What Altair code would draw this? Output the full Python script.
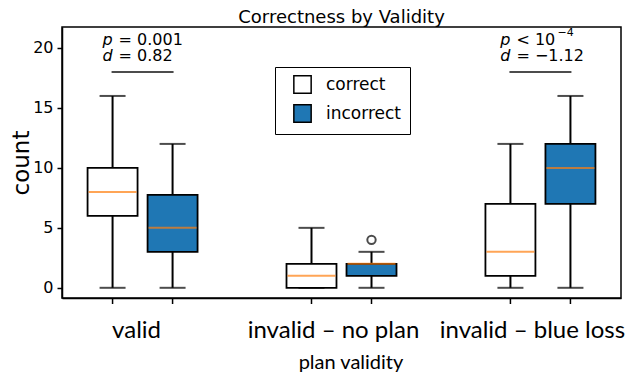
import altair as alt
import pandas as pd

# ---- data ----
groups = ["valid", "invalid – no plan", "invalid – blue loss"]
statuses = ["correct", "incorrect"]

box_group = ["valid", "valid", "invalid – no plan", "invalid – no plan",
             "invalid – blue loss", "invalid – blue loss"]
box_status = ["correct", "incorrect", "correct", "incorrect", "correct", "incorrect"]
whisker_low = [0, 0, 0, 0, 0, 0]
q1 = [6, 3, 0, 1, 1, 7]
median = [8, 5, 1, 2, 3, 10]
q3 = [10, 7.75, 2, 2, 7, 12]
whisker_high = [16, 12, 5, 3, 12, 16]

outlier_group = ["invalid – no plan"]
outlier_status = ["incorrect"]
outlier_value = [4]

ann_group = ["valid", "invalid – blue loss"]
ann_p_rest = ["= 0.001", "< 10"]
ann_p_sup = ["", "−4"]
ann_d_rest = ["= 0.82", "= −1.12"]

box_df = pd.DataFrame({
    "group": box_group, "status": box_status, "lo": whisker_low, "q1": q1,
    "median": median, "q3": q3, "hi": whisker_high,
})
out_df = pd.DataFrame({"group": outlier_group, "status": outlier_status, "value": outlier_value})
ann_df = pd.DataFrame({"group": ann_group, "p": ann_p_rest, "sup": ann_p_sup, "d": ann_d_rest,
                       "pl": ["p"] * len(ann_group), "dl": ["d"] * len(ann_group)})

W, H = 559, 271
BLUE = "#1f77b4"
ORANGE = "#ff7f0e"

x_enc = alt.X(
    "group:N", sort=groups,
    scale=alt.Scale(paddingInner=0.4, paddingOuter=0.105),
    axis=alt.Axis(
        title="plan validity", ticks=False, labelAngle=0,
        labelFont="Lato", labelFontSize=24, labelColor="black", labelLimit=400,
        labelPadding=20, labelBaseline="top",
        labelOffset=alt.expr("datum.value == 'valid' ? -6 : -8"),
        titleFont="Lato", titleFontSize=20, titleFontWeight="normal",
        titleColor="black", titleBaseline="top", titleY=54, titleX=W / 2 + 9,
        titleAlign="center",
        domainColor="black", domainWidth=1.5,
    ),
)
xo_enc = alt.XOffset("status:N", sort=statuses,
                     scale=alt.Scale(paddingInner=0.167, paddingOuter=0.078))
yscale = alt.Scale(domain=[-0.85, 21.75], nice=False, zero=False)
y_axis = alt.Axis(
    values=[0, 5, 10, 15, 20], title="count", grid=False,
    labelFont="DejaVu Sans", labelFontSize=16, labelColor="black", labelPadding=4,
    tickSize=5, tickWidth=1.5, tickColor="black",
    domainColor="black", domainWidth=1.5,
    titleFont="DejaVu Sans", titleFontSize=23, titleFontWeight="normal",
    titleColor="black", titleX=-41, titleY=H / 2, titleAngle=-90,
    titleAlign="center", titleBaseline="middle",
)


def yf(field):
    return alt.Y(field, scale=yscale, axis=y_axis)


def yd(v):
    return alt.YDatum(v, type="quantitative", scale=yscale, axis=y_axis)


base = alt.Chart(box_df)

boxes = base.mark_bar(stroke="black", strokeWidth=1.8).encode(
    x=x_enc, xOffset=xo_enc,
    y=yf("q1:Q"), y2="q3:Q",
    fill=alt.Fill(
        "status:N", scale=alt.Scale(domain=statuses, range=["white", BLUE]),
        legend=alt.Legend(
            title=None, orient="none", legendX=213, legendY=40,
            fillColor="white", strokeColor="black", padding=8,
            symbolType="square", symbolSize=300, symbolStrokeColor="black",
            symbolStrokeWidth=1.5, symbolOffset=10,
            labelFont="DejaVu Sans", labelFontSize=17,
            labelColor="black", rowPadding=4, labelOffset=14,
        ),
    ),
)

whisk_lo = base.mark_rule(color="black", strokeWidth=2).encode(
    x=x_enc, xOffset=xo_enc, y=yf("lo:Q"), y2="q1:Q")
whisk_hi = base.mark_rule(color="black", strokeWidth=2).encode(
    x=x_enc, xOffset=xo_enc, y=yf("q3:Q"), y2="hi:Q")
cap_lo = base.mark_tick(color="black", size=26, thickness=2).encode(
    x=x_enc, xOffset=xo_enc, y=yf("lo:Q"))
cap_hi = base.mark_tick(color="black", size=26, thickness=2).encode(
    x=x_enc, xOffset=xo_enc, y=yf("hi:Q"))
med = base.mark_tick(color=ORANGE, size=48, thickness=2).encode(
    x=x_enc, xOffset=xo_enc, y=yf("median:Q"))
xticks = base.mark_rule(color="black", strokeWidth=1.5).encode(
    x=x_enc, xOffset=xo_enc, y=alt.value(H), y2=alt.value(H + 6))

outliers = alt.Chart(out_df).mark_point(
    shape="circle", filled=False, color="black", size=70, strokeWidth=2
).encode(x=x_enc, xOffset=xo_enc, y=yf("value:Q"))

ann = alt.Chart(ann_df)
txt_style = dict(font="DejaVu Sans", fontSize=16, color="black", baseline="middle")
P_Y, D_Y = 20.68, 19.33
p_letter = ann.mark_text(align="right", dx=-30, fontStyle="italic", **txt_style).encode(
    x=x_enc, y=yd(P_Y), text="pl:N")
p_rest = ann.mark_text(align="left", dx=-24, **txt_style).encode(
    x=x_enc, y=yd(P_Y), text="p:N")
p_sup = ann.mark_text(align="left", dx=17, dy=-7, font="DejaVu Sans", fontSize=11,
                      color="black", baseline="middle").encode(
    x=x_enc, y=yd(P_Y), text="sup:N")
d_letter = ann.mark_text(align="right", dx=-30, fontStyle="italic", **txt_style).encode(
    x=x_enc, y=yd(D_Y), text="dl:N")
d_rest = ann.mark_text(align="left", dx=-24, **txt_style).encode(
    x=x_enc, y=yd(D_Y), text="d:N")
bracket = ann.mark_tick(color="black", size=62, thickness=2).encode(
    x=x_enc, y=yd(18))

chart = alt.layer(
    whisk_lo, whisk_hi, cap_lo, cap_hi, boxes, med, outliers, xticks,
    p_letter, p_rest, p_sup, d_letter, d_rest, bracket,
).properties(
    width=W, height=H,
    title=alt.Title("Correctness by Validity", font="DejaVu Sans", fontSize=18,
                    fontWeight="normal", color="black", anchor="middle", offset=0),
    autosize=alt.AutoSizeParams(type="none"),
    padding={"left": 54, "top": 19, "right": 7, "bottom": 75},
).configure(background="white").configure_view(stroke="black", strokeWidth=1.5)

chart.save("out.html", embed_options={"renderer": "svg", "actions": False})
